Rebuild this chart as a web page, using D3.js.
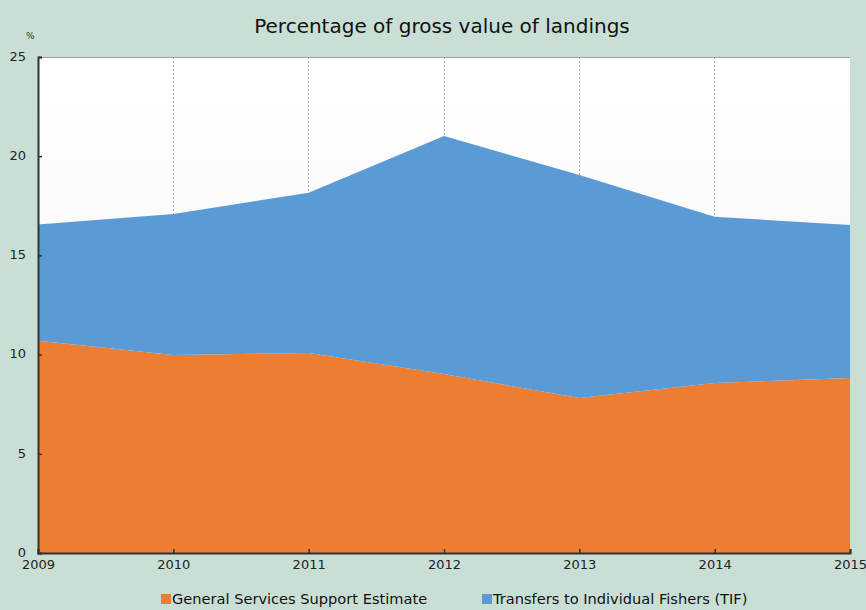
<!DOCTYPE html>
<html>
<head>
<meta charset="utf-8">
<script src="https://cdn.jsdelivr.net/npm/d3@7"></script>
<style>
  html, body { margin: 0; padding: 0; background: #c9dfd5; }
  svg { display: block; font-family: "DejaVu Sans", Verdana, sans-serif; }
</style>
</head>
<body>
<svg id="chart" width="866" height="610"></svg>
<script>
// Support as % of gross value of landings
const years = [2009, 2010, 2011, 2012, 2013, 2014, 2015];
const gsse = [10.7, 9.98, 10.08, 9.02, 7.81, 8.57, 8.82];
const tif = [5.86, 7.11, 8.08, 12.0, 11.24, 8.38, 7.71];
const seriesNames = ["General Services Support Estimate", "Transfers to Individual Fishers (TIF)"];
const seriesColors = ["#ed7d31", "#5b9bd5"];
const yTicks = [0, 5, 10, 15, 20, 25];

const svg = d3.select("#chart");
const W = 866, H = 610;
const m = { left: 38, right: 16, top: 57, bottom: 57 };
const iw = W - m.left - m.right, ih = H - m.top - m.bottom;

const x = d3.scaleLinear().domain([years[0], years[years.length - 1]]).range([m.left, m.left + iw]);
const y = d3.scaleLinear().domain([0, 25]).range([m.top + ih, m.top]);

// plot background with a faint vertical gradient
const defs = svg.append("defs");
const grad = defs.append("linearGradient").attr("id", "bg").attr("x1", 0).attr("y1", 0).attr("x2", 0).attr("y2", 1);
grad.append("stop").attr("offset", "0%").attr("stop-color", "#ffffff");
grad.append("stop").attr("offset", "100%").attr("stop-color", "#f3f3f3");
svg.append("rect").attr("x", m.left).attr("y", m.top).attr("width", iw).attr("height", ih).attr("fill", "url(#bg)");

// vertical dotted gridlines
svg.append("g").selectAll("line").data(years.slice(1, -1)).join("line")
  .attr("x1", d => x(d)).attr("x2", d => x(d))
  .attr("y1", m.top).attr("y2", m.top + ih)
  .attr("stroke", "#aaaaaa").attr("stroke-width", 1).attr("stroke-dasharray", "2,2")
  .attr("shape-rendering", "crispEdges");

// top border
svg.append("line").attr("x1", m.left).attr("x2", m.left + iw).attr("y1", m.top + 0.5).attr("y2", m.top + 0.5)
  .attr("stroke", "#a0a0a0");

// stacked areas
const rows = years.map((yr, i) => ({ year: yr, gsse: gsse[i], tif: tif[i] }));
const stack = d3.stack().keys(["gsse", "tif"])(rows);
const area = d3.area()
  .x(d => x(d.data.year))
  .y0(d => y(d[0]))
  .y1(d => y(d[1]));
svg.append("g").selectAll("path").data(stack).join("path")
  .attr("d", area)
  .attr("fill", (d, i) => seriesColors[i]);

// axes
const yAxis = d3.axisLeft(y).tickValues(yTicks).tickSize(-4).tickPadding(12);
const gy = svg.append("g").attr("transform", `translate(${m.left},0)`).call(yAxis);
const xAxis = d3.axisBottom(x).tickValues(years).tickFormat(d3.format("d")).tickSize(-4).tickPadding(8);
const gx = svg.append("g").attr("transform", `translate(0,${m.top + ih})`).call(xAxis);
[gy, gx].forEach(g => {
  g.select(".domain").attr("stroke", "#333333").attr("stroke-width", 2);
  g.selectAll(".tick line").attr("stroke", "#333333").attr("stroke-width", 1.5);
  g.selectAll(".tick text").attr("fill", "#222222").attr("font-size", 13)
    .attr("font-family", "\"DejaVu Sans\", Verdana, sans-serif");
});
gy.selectAll(".tick text").attr("dx", 0).attr("dy", "0.25em");
gx.selectAll(".tick text").attr("dy", "0.6em");

// unit label
svg.append("text").attr("x", 26).attr("y", 39).attr("font-size", 9).attr("fill", "#333").text("%");

// title
svg.append("text").attr("x", 442).attr("y", 33).attr("text-anchor", "middle")
  .attr("font-size", 20).attr("fill", "#111").text("Percentage of gross value of landings");

// legend
const legendX = [161, 482];
const lg = svg.append("g").selectAll("g").data(seriesNames).join("g")
  .attr("transform", (d, i) => `translate(${legendX[i]},${604})`);
lg.append("rect").attr("x", 0).attr("y", -10).attr("width", 10).attr("height", 10)
  .attr("fill", (d, i) => seriesColors[i]);
lg.append("text").attr("x", 11).attr("y", 0).attr("font-size", 14.6).attr("fill", "#111").text(d => d);
</script>
</body>
</html>
